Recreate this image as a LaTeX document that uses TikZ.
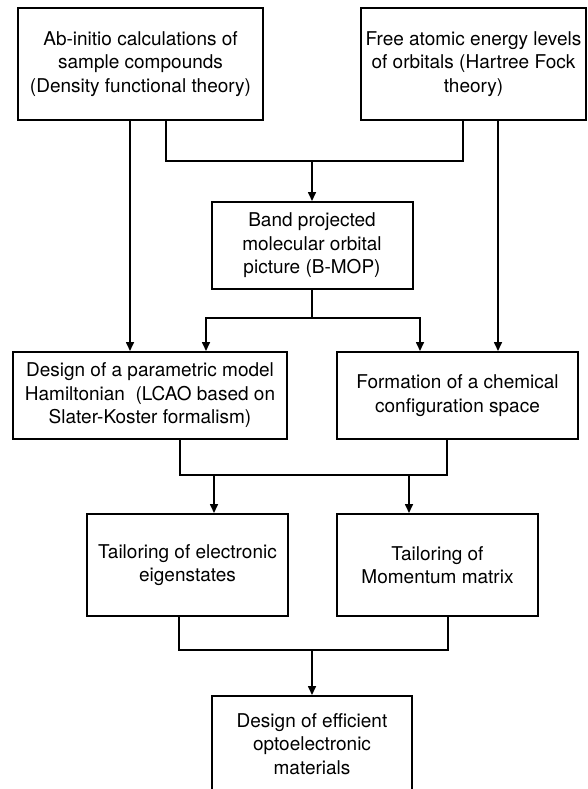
\documentclass[tikz,border=0pt]{standalone}
\usepackage{fontspec}
\setmainfont{TeX Gyre Heros}
\usepackage{tikz}
\usetikzlibrary{arrows.meta, positioning}

\begin{document}
\begin{tikzpicture}[
    x=1pt, y=-1pt,
    box/.style={draw, line width=2pt, inner sep=0pt, align=center,
        font=\fontsize{19}{23.5}\selectfont},
    wire/.style={line width=1.6pt},
    link/.style={wire, -{Triangle[length=9pt, width=8pt]}}
]

\path[fill=white, use as bounding box] (0,0) rectangle (587,789);

% Sources
\node[box, minimum width=245pt, minimum height=112pt] (abinitio) at (140.5,64)
    {Ab-initio calculations of\\sample compounds\\(Density functional theory)};
\node[box, minimum width=225pt, minimum height=112pt] (hartree) at (473.5,64)
    {Free atomic energy levels\\of orbitals (Hartree Fock\\theory)};

% B-MOP
\node[box, minimum width=201pt, minimum height=87pt] (bmop) at (312,245.5)
    {Band projected\\molecular orbital\\picture (B-MOP)};

% Model and configuration space
\node[box, minimum width=274pt, minimum height=87pt] (hamil) at (150,395.5)
    {Design of a parametric model\\Hamiltonian\ \ (LCAO based on\\Slater-Koster formalism)};
\node[box, minimum width=241pt, minimum height=87pt] (config) at (457.5,395.5)
    {Formation of a chemical\\configuration space};

% Tailoring
\node[box, minimum width=201pt, minimum height=102pt] (eigen) at (187.5,565)
    {Tailoring of electronic\\eigenstates};
\node[box, minimum width=201pt, minimum height=102pt] (momentum) at (437.5,565)
    {Tailoring of\\Momentum matrix};

% Goal
\node[box, minimum width=200pt, minimum height=96pt] (optomat) at (312,744)
    {Design of efficient\\optoelectronic\\materials};

% Junctions
\coordinate (j1) at (312,161);
\coordinate (j2) at (312,318);
\coordinate (j3) at (312,475);
\coordinate (j4) at (312,650);

% Connectors
\draw[link] ([xshift=-10.5pt]abinitio.south) -- ([xshift=-20pt]hamil.north);
\draw[wire] ([xshift=25.5pt]abinitio.south) |- (j1);
\draw[wire] ([xshift=-10.5pt]hartree.south) |- (j1);
\draw[link] (j1) -- (bmop.north);
\draw[link] ([xshift=24.5pt]hartree.south) -- ([xshift=40.5pt]config.north);

\draw[wire] (bmop.south) -- (j2);
\draw[link] (j2) -| ([xshift=56pt]hamil.north);
\draw[link] (j2) -| ([xshift=-37.5pt]config.north);

\draw[wire] ([xshift=30pt]hamil.south) |- (j3) -| ([xshift=-10.5pt]config.south);
\draw[link] (j3) -| ([xshift=26.5pt]eigen.north);
\draw[link] (j3) -| ([xshift=-28.5pt]momentum.north);

\draw[wire] ([xshift=-8.5pt]eigen.south) |- (j4) -| ([xshift=10.5pt]momentum.south);
\draw[link] (j4) -- (optomat.north);

\end{tikzpicture}
\end{document}
